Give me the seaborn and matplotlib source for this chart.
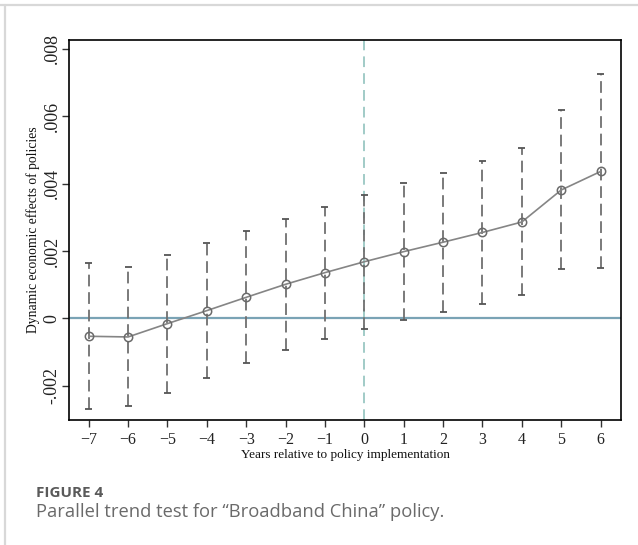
import matplotlib
matplotlib.use("Agg")
import matplotlib.pyplot as plt
import matplotlib.ticker as mticker
from matplotlib.lines import Line2D
import seaborn as sns
import pandas as pd

years = [-7, -6, -5, -4, -3, -2, -1, 0, 1, 2, 3, 4, 5, 6]
coef = [-0.000534, -0.000554, -0.000158, 0.000228, 0.000623, 0.00101, 0.001356,
        0.00168, 0.00198, 0.00226, 0.00255, 0.00286, 0.00381, 0.00436]
ci_upper = [0.00165, 0.00152, 0.00187, 0.00223, 0.00259, 0.00295, 0.00330,
            0.00366, 0.00402, 0.00433, 0.00468, 0.00507, 0.00618, 0.00725]
ci_lower = [-0.00270, -0.00261, -0.00223, -0.00177, -0.00134, -0.00095, -0.00061,
            -0.00031, -0.00004, 0.00019, 0.00042, 0.00068, 0.00145, 0.00148]
y_ticks = [-0.002, 0, 0.002, 0.004, 0.006, 0.008]
x_label = "Years relative to policy implementation"
y_label = "Dynamic economic effects of policies"
fig_num = "FIGURE 4"
caption = "Parallel trend test for \u201cBroadband China\u201d policy."

df = pd.DataFrame({"year": years, "coef": coef, "lo": ci_lower, "hi": ci_upper})

sns.set_style("white")
plt.rcParams["font.family"] = ["Liberation Serif", "DejaVu Serif"]

fig = plt.figure(figsize=(6.38, 5.45), dpi=100)
ax = fig.add_axes([0.1082, 0.2294, 0.8652, 0.6981])

# zero line and event line
ax.axhline(0, color="#7aa3b5", lw=1.6, zorder=1)
ax.axvline(0, color="#88bdb8", lw=1.1, ls=(0, (7, 4)), zorder=1)

# confidence intervals (dashed with caps)
ax.vlines(df["year"], df["lo"], df["hi"], colors="#707070", lw=1.3,
          linestyles=(0, (6.5, 3.2)), zorder=2)
ax.hlines(df["lo"], df["year"] - 0.09, df["year"] + 0.09, colors="#555555", lw=1.3, zorder=2)
ax.hlines(df["hi"], df["year"] - 0.09, df["year"] + 0.09, colors="#555555", lw=1.3, zorder=2)

# point estimates
sns.lineplot(data=df, x="year", y="coef", ax=ax, color="#858585", lw=1.2,
             marker="o", markersize=6, markerfacecolor="none",
             markeredgecolor="#6a6a6a", markeredgewidth=1.1, zorder=3)

ax.set_xlim(-7.5, 6.52)
ax.set_ylim(-0.00302, 0.00828)
ax.set_xticks(years)
ax.set_xticklabels([("\u2212" + str(-v)) if v < 0 else str(v) for v in years])
ax.set_yticks(y_ticks)


def fmt(v, pos):
    if abs(v) < 1e-12:
        return "0"
    s = ("%.3f" % v)
    s = s.replace("0.", ".")
    return s


ax.yaxis.set_major_formatter(mticker.FuncFormatter(fmt))
ax.tick_params(axis="y", labelsize=13, length=5, width=1, color="#333333",
               left=True, pad=1, labelcolor="#222222")
ax.tick_params(axis="x", labelsize=11.5, length=5, width=1, color="#333333",
               bottom=True, pad=4, labelcolor="#222222")
for lab in ax.get_yticklabels():
    lab.set_rotation(90)
    lab.set_va("center")

for sp in ax.spines.values():
    sp.set_color("black")
    sp.set_linewidth(1.2)

ax.set_xlabel(x_label, fontsize=9.5, labelpad=0.5, color="#111111")
ax.set_ylabel(y_label, fontsize=9.8, labelpad=3, color="#111111")

# figure frame lines
fig.add_artist(Line2D([0, 1], [1 - 5 / 545, 1 - 5 / 545], transform=fig.transFigure,
                      color="#d8d8d8", lw=1.6))
fig.add_artist(Line2D([5 / 638, 5 / 638], [0, 1 - 5 / 545], transform=fig.transFigure,
                      color="#d8d8d8", lw=1.6))

fig.text(36 / 638, 1 - 493 / 545, fig_num, fontsize=11, fontweight="bold",
         family=["Open Sans", "DejaVu Sans"], color="#5a5a5a", va="center", ha="left")
fig.text(36 / 638, 1 - 512 / 545, caption, fontsize=13.2,
         family=["Open Sans", "DejaVu Sans"], color="#6a6a6a", va="center", ha="left")

fig.savefig("out.png", dpi=100)
